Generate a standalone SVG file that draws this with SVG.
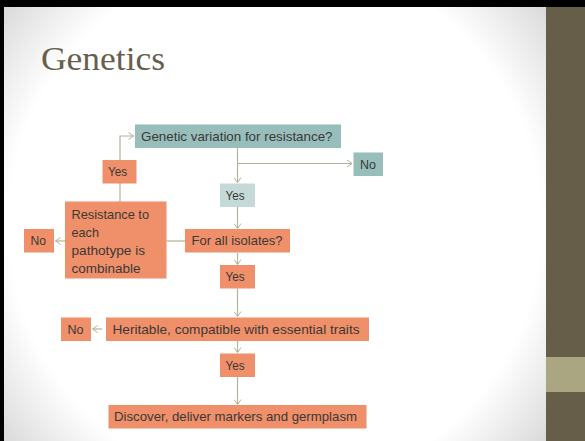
<svg xmlns="http://www.w3.org/2000/svg" width="585" height="441" viewBox="0 0 585 441">
<defs>
  <radialGradient id="bg" gradientUnits="userSpaceOnUse" cx="275" cy="224" r="360">
    <stop offset="0" stop-color="#ffffff"/>
    <stop offset="0.74" stop-color="#ffffff"/>
    <stop offset="1" stop-color="#d4d4d4"/>
  </radialGradient>
  <marker id="arr" viewBox="0 0 6 8" refX="5.5" refY="4" markerWidth="6" markerHeight="8" markerUnits="userSpaceOnUse" orient="auto">
    <path d="M0.5,0.5 L5.5,4 L0.5,7.5" fill="none" stroke="#b5b296" stroke-width="1"/>
  </marker>
</defs>
<style>
  .ln { fill: none; stroke: #b5b296; stroke-width: 1.2; }
  .or { fill: #f0906a; }
  .tl { fill: #98bebc; }
  .lt { fill: #c3dad8; }
  .tx { font-family: "Liberation Sans", Arial, sans-serif; font-size: 13px; fill: #3b3835; }
  .title { font-family: "Liberation Serif", "DejaVu Serif", serif; font-size: 33px; fill: #675f4c; }
</style>
<!-- slide background -->
<rect x="0" y="0" width="585" height="441" fill="url(#bg)"/>
<rect x="546" y="0" width="39" height="441" fill="#665e48"/>
<rect x="546" y="357" width="39" height="35" fill="#a9a681"/>
<rect x="0" y="0" width="585" height="7" fill="#000"/>
<rect x="0" y="0" width="4" height="441" fill="#000"/>

<text class="title" x="41" y="70" textLength="124" lengthAdjust="spacingAndGlyphs">Genetics</text>

<g id="connectors">
  <path class="ln" d="M120,202 V136 H133.5" marker-end="url(#arr)"/>
  <path class="ln" d="M237.5,148 V182.5" marker-end="url(#arr)"/>
  <path class="ln" d="M237.5,163.5 H352" marker-end="url(#arr)"/>
  <path class="ln" d="M237.5,207 V228.5" marker-end="url(#arr)"/>
  <path class="ln" d="M185,241 H166.5"/>
  <path class="ln" d="M65,241 H55.5" marker-end="url(#arr)"/>
  <path class="ln" d="M237.5,253 V264.5" marker-end="url(#arr)"/>
  <path class="ln" d="M237.5,288.5 V316.5" marker-end="url(#arr)"/>
  <path class="ln" d="M102,329 H92.5" marker-end="url(#arr)"/>
  <path class="ln" d="M237.5,341 V352.5" marker-end="url(#arr)"/>
  <path class="ln" d="M237.5,377 V404.5" marker-end="url(#arr)"/>
</g>

<g id="n-genetic">
  <rect class="tl" x="135" y="124.5" width="206" height="23.5"/>
  <text class="tx" x="141" y="140.5" textLength="191.5" lengthAdjust="spacingAndGlyphs">Genetic variation for resistance?</text>
</g>
<g id="n-no-top">
  <rect class="tl" x="353.5" y="152.5" width="29.5" height="23.5"/>
  <text class="tx" x="360" y="168.5" textLength="16" lengthAdjust="spacingAndGlyphs">No</text>
</g>
<g id="n-yes-loop">
  <rect class="or" x="102.5" y="160" width="34" height="23.5"/>
  <text class="tx" x="108" y="176" textLength="19" lengthAdjust="spacingAndGlyphs">Yes</text>
</g>
<g id="n-yes-1">
  <rect class="lt" x="220" y="183.5" width="35" height="23.5"/>
  <text class="tx" x="225.5" y="199.5" textLength="19" lengthAdjust="spacingAndGlyphs">Yes</text>
</g>
<g id="n-resistance">
  <rect class="or" x="65" y="201.5" width="101.5" height="77"/>
  <text class="tx" x="71.5" y="219" textLength="77.5" lengthAdjust="spacingAndGlyphs">Resistance to</text>
  <text class="tx" x="71.5" y="237" textLength="27.5" lengthAdjust="spacingAndGlyphs">each</text>
  <text class="tx" x="71.5" y="255" textLength="73.5" lengthAdjust="spacingAndGlyphs">pathotype is</text>
  <text class="tx" x="71.5" y="272.5" textLength="69" lengthAdjust="spacingAndGlyphs">combinable</text>
</g>
<g id="n-no-left">
  <rect class="or" x="24" y="229" width="30" height="23.5"/>
  <text class="tx" x="30.5" y="245" textLength="15.5" lengthAdjust="spacingAndGlyphs">No</text>
</g>
<g id="n-isolates">
  <rect class="or" x="185" y="229" width="105" height="23.5"/>
  <text class="tx" x="191.5" y="245" textLength="91" lengthAdjust="spacingAndGlyphs">For all isolates?</text>
</g>
<g id="n-yes-2">
  <rect class="or" x="220" y="265" width="35" height="23.5"/>
  <text class="tx" x="225.5" y="281" textLength="19" lengthAdjust="spacingAndGlyphs">Yes</text>
</g>
<g id="n-heritable">
  <rect class="or" x="106" y="317.5" width="263" height="23.5"/>
  <text class="tx" x="112.5" y="333.5" textLength="247" lengthAdjust="spacingAndGlyphs">Heritable, compatible with essential traits</text>
</g>
<g id="n-no-bottom">
  <rect class="or" x="61" y="317.5" width="30" height="23.5"/>
  <text class="tx" x="67.5" y="333.5" textLength="16" lengthAdjust="spacingAndGlyphs">No</text>
</g>
<g id="n-yes-3">
  <rect class="or" x="220" y="353.5" width="35" height="23.5"/>
  <text class="tx" x="225.5" y="369.5" textLength="19" lengthAdjust="spacingAndGlyphs">Yes</text>
</g>
<g id="n-discover">
  <rect class="or" x="108.5" y="405" width="258" height="23.5"/>
  <text class="tx" x="114" y="421" textLength="243" lengthAdjust="spacingAndGlyphs">Discover, deliver markers and germplasm</text>
</g>
</svg>
